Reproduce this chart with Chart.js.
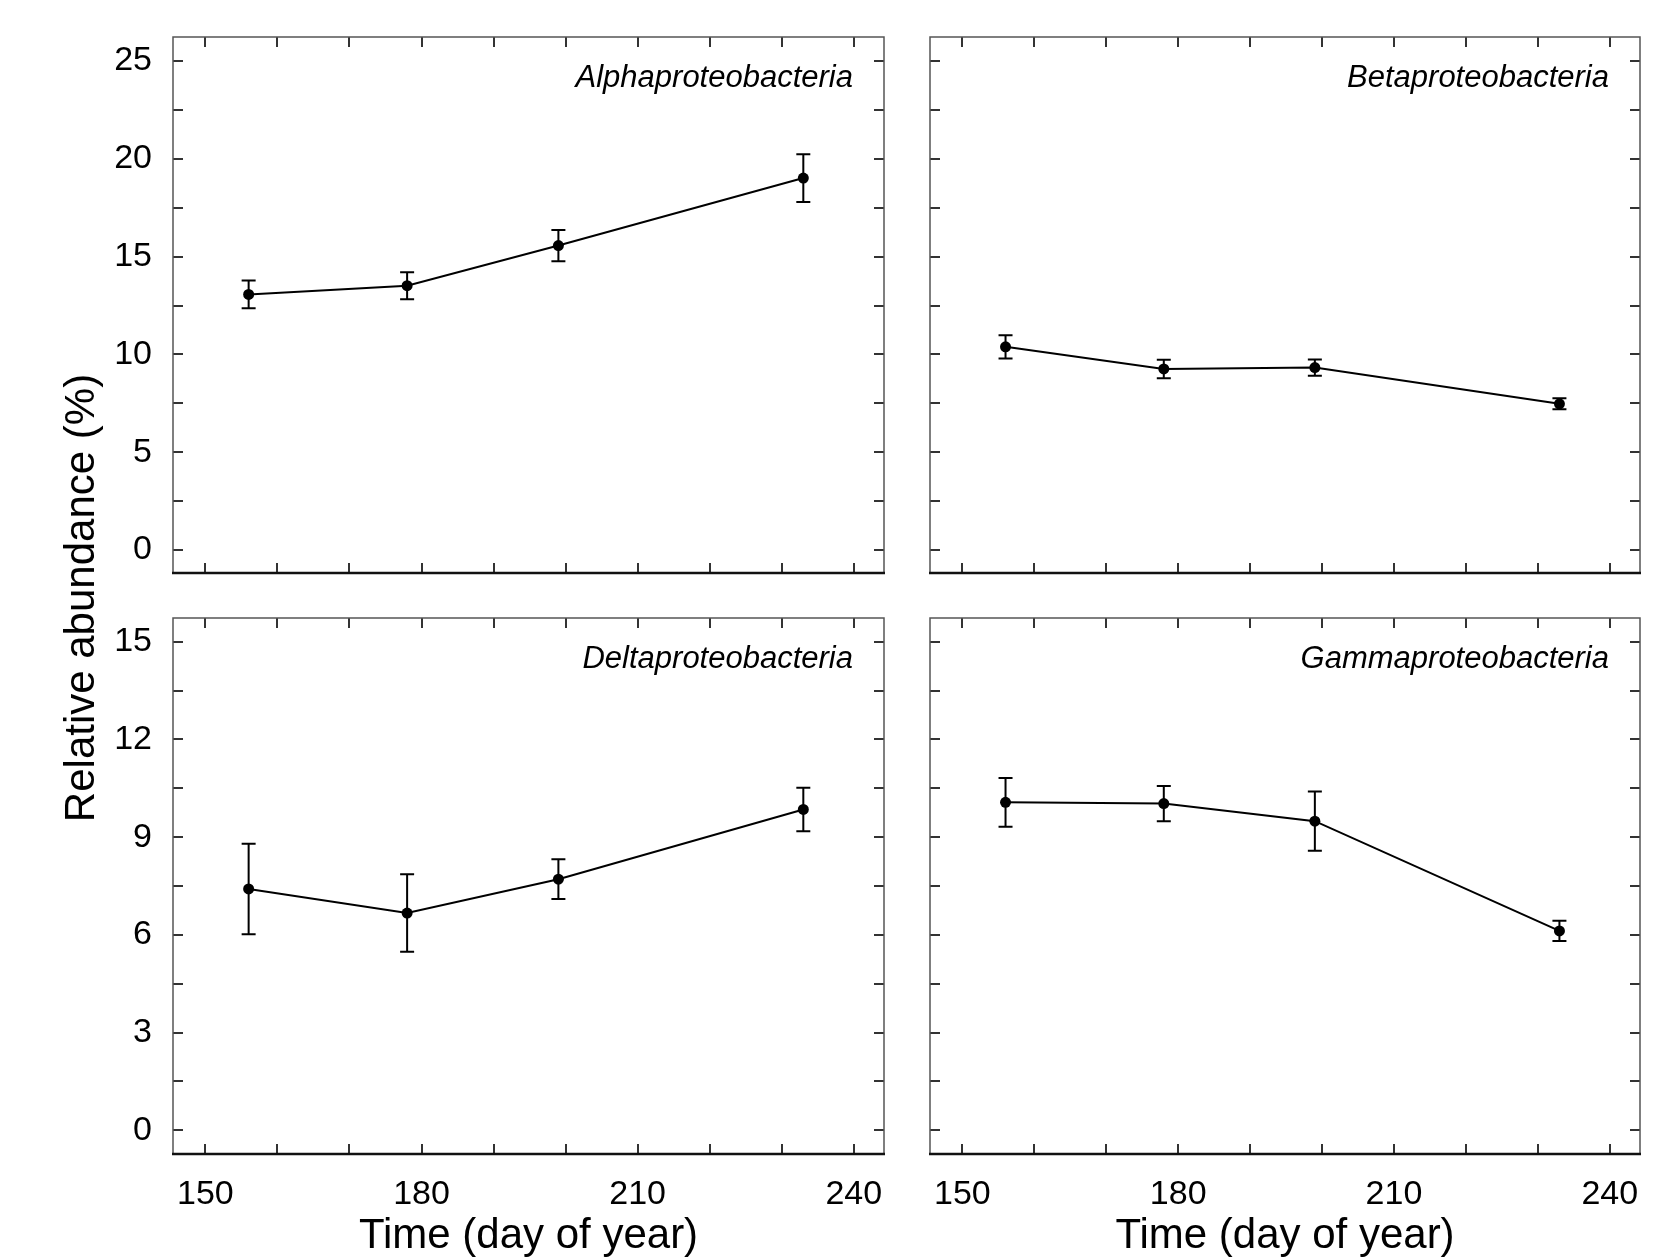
<!DOCTYPE html>
<html>
<head>
<meta charset="utf-8">
<title>Proteobacteria relative abundance</title>
<style>
  html, body { margin: 0; padding: 0; background: #fff; }
  body { width: 1672px; height: 1259px; position: relative; overflow: hidden;
         font-family: "Liberation Sans", Arial, sans-serif; }
  canvas.panel { position: absolute; }
  #ytitle { position: absolute; left: -220px; top: 573px; width: 600px; height: 50px;
            line-height: 50px; text-align: center; font-size: 42px; color: #000;
            transform: rotate(-90deg); white-space: nowrap; }
</style>
<script src="https://cdn.jsdelivr.net/npm/chart.js@4.4.1/dist/chart.umd.min.js"></script>
</head>
<body>
<canvas class="panel" id="alpha"></canvas>
<canvas class="panel" id="beta"></canvas>
<canvas class="panel" id="delta"></canvas>
<canvas class="panel" id="gamma"></canvas>
<div id="ytitle">Relative abundance (%)</div>
<script>
// sampling days
var days = [156, 178, 199, 233];

// mean relative abundance (%) and error bar half-length
var alphaMean = [13.07, 13.52, 15.57, 19.02];
var alphaErr  = [0.71, 0.69, 0.80, 1.22];
var betaMean  = [10.39, 9.26, 9.33, 7.48];
var betaErr   = [0.60, 0.47, 0.42, 0.28];
var deltaMean = [7.41, 6.67, 7.71, 9.85];
var deltaErr  = [1.39, 1.19, 0.61, 0.67];
var gammaMean = [10.07, 10.03, 9.49, 6.12];
var gammaErr  = [0.75, 0.54, 0.91, 0.31];

// ticks
var xTickMarks  = [150, 160, 170, 180, 190, 200, 210, 220, 230, 240];
var xTickLabels = [150, 180, 210, 240];
var yTickMarksTop  = [0, 2.5, 5, 7.5, 10, 12.5, 15, 17.5, 20, 22.5, 25];
var yTickLabelsTop = [0, 5, 10, 15, 20, 25];
var yTickMarksBottom  = [0, 1.5, 3, 4.5, 6, 7.5, 9, 10.5, 12, 13.5, 15];
var yTickLabelsBottom = [0, 3, 6, 9, 12, 15];

Chart.defaults.font.family = '"Liberation Sans", Arial, sans-serif';
Chart.defaults.color = '#000';

function zeroPadding(s) {
    s.paddingTop = 0; s.paddingBottom = 0; s.paddingLeft = 0; s.paddingRight = 0;
}

// frame, inward ticks, error bars and the taxon name
function framePlugin(yMarks) {
    return {
        id: 'frame',
        beforeDatasetsDraw: function (chart) {
            var ds = chart.data.datasets[0];
            var x = chart.scales.x, y = chart.scales.y, ctx = chart.ctx;
            ctx.save();
            ctx.strokeStyle = '#000';
            ctx.lineWidth = 2;
            ds.data.forEach(function (p, i) {
                var px = x.getPixelForValue(p.x);
                var top = y.getPixelForValue(p.y + ds.errors[i]);
                var bot = y.getPixelForValue(p.y - ds.errors[i]);
                ctx.beginPath();
                ctx.moveTo(px, top); ctx.lineTo(px, bot);
                ctx.moveTo(px - 7, top); ctx.lineTo(px + 7, top);
                ctx.moveTo(px - 7, bot); ctx.lineTo(px + 7, bot);
                ctx.stroke();
            });
            ctx.restore();
        },
        afterDraw: function (chart) {
            var a = chart.chartArea, ctx = chart.ctx;
            var x = chart.scales.x, y = chart.scales.y;
            var len = 10;
            ctx.save();
            ctx.strokeStyle = '#333';
            ctx.lineWidth = 2;
            ctx.beginPath();
            xTickMarks.forEach(function (v) {
                var px = Math.round(x.getPixelForValue(v));
                ctx.moveTo(px, a.bottom); ctx.lineTo(px, a.bottom - len);
                ctx.moveTo(px, a.top); ctx.lineTo(px, a.top + len);
            });
            yMarks.forEach(function (v) {
                var py = Math.round(y.getPixelForValue(v));
                ctx.moveTo(a.left, py); ctx.lineTo(a.left + len, py);
                ctx.moveTo(a.right, py); ctx.lineTo(a.right - len, py);
            });
            ctx.stroke();

            // thin grey frame, heavier bottom axis
            ctx.strokeStyle = '#555';
            ctx.lineWidth = 1.5;
            ctx.beginPath();
            ctx.moveTo(a.left, a.bottom); ctx.lineTo(a.left, a.top);
            ctx.lineTo(a.right, a.top); ctx.lineTo(a.right, a.bottom);
            ctx.stroke();
            ctx.strokeStyle = '#111';
            ctx.lineWidth = 2.5;
            ctx.beginPath();
            ctx.moveTo(a.left - 1, a.bottom); ctx.lineTo(a.right + 1, a.bottom);
            ctx.stroke();

            ctx.fillStyle = '#000';
            ctx.font = 'italic 31px "Liberation Sans", Arial, sans-serif';
            ctx.textAlign = 'right';
            ctx.textBaseline = 'alphabetic';
            ctx.fillText(chart.data.datasets[0].label, a.right - 31, a.top + 50);
            ctx.restore();
        }
    };
}

function makePanel(id, name, means, errs, rect, opt) {
    var padL = opt.showY ? 120 : 12;
    var cLeft = rect.l - padL;
    var cTop = Math.max(0, rect.t - 40);
    var cRight = rect.r + 40;
    var cBottom = opt.showX ? 1259 : rect.b + 40;
    var canvas = document.getElementById(id);
    canvas.style.left = cLeft + 'px';
    canvas.style.top = cTop + 'px';
    canvas.width = cRight - cLeft;
    canvas.height = cBottom - cTop;

    var points = days.map(function (d, i) { return { x: d, y: means[i] }; });

    new Chart(canvas, {
        type: 'line',
        data: {
            datasets: [{
                label: name,
                data: points,
                errors: errs,
                borderColor: '#000',
                borderWidth: 2,
                backgroundColor: '#000',
                pointBackgroundColor: '#000',
                pointBorderWidth: 0,
                pointRadius: 5.5,
                tension: 0
            }]
        },
        options: {
            responsive: false,
            animation: false,
            events: [],
            layout: { padding: { left: 0, top: rect.t - cTop, right: 40, bottom: 0 } },
            plugins: { legend: { display: false }, tooltip: { enabled: false } },
            scales: {
                x: {
                    type: 'linear',
                    min: 145.5,
                    max: 244.2,
                    grid: { display: false },
                    border: { display: false },
                    afterBuildTicks: function (s) {
                        s.ticks = xTickLabels.map(function (v) { return { value: v }; });
                    },
                    afterFit: function (s) { s.height = cBottom - rect.b; zeroPadding(s); },
                    ticks: {
                        display: opt.showX,
                        autoSkip: false,
                        maxRotation: 0,
                        padding: 12,
                        font: { size: 34 },
                        callback: function (v) { return String(v); }
                    },
                    title: {
                        display: opt.showX,
                        text: 'Time (day of year)',
                        font: { size: 42, lineHeight: 1 },
                        padding: { top: 0, bottom: 2 }
                    }
                },
                y: {
                    type: 'linear',
                    min: opt.yMin,
                    max: opt.yMax,
                    grid: { display: false },
                    border: { display: false },
                    afterBuildTicks: function (s) {
                        s.ticks = opt.yLabels.map(function (v) { return { value: v }; });
                    },
                    afterFit: function (s) { s.width = padL; zeroPadding(s); },
                    ticks: {
                        display: opt.showY,
                        autoSkip: false,
                        padding: 13,
                        font: { size: 34 },
                        callback: function (v) { return String(v); }
                    }
                }
            }
        },
        plugins: [framePlugin(opt.yMarks)]
    });
}

var topOpt = { yMin: -1.17, yMax: 26.23, yMarks: yTickMarksTop, yLabels: yTickLabelsTop };
var botOpt = { yMin: -0.73, yMax: 15.73, yMarks: yTickMarksBottom, yLabels: yTickLabelsBottom };

makePanel('alpha', 'Alphaproteobacteria', alphaMean, alphaErr,
    { l: 173, t: 37, r: 884, b: 573 },
    Object.assign({ showY: true, showX: false }, topOpt));
makePanel('beta', 'Betaproteobacteria', betaMean, betaErr,
    { l: 930, t: 37, r: 1640, b: 573 },
    Object.assign({ showY: false, showX: false }, topOpt));
makePanel('delta', 'Deltaproteobacteria', deltaMean, deltaErr,
    { l: 173, t: 618, r: 884, b: 1154 },
    Object.assign({ showY: true, showX: true }, botOpt));
makePanel('gamma', 'Gammaproteobacteria', gammaMean, gammaErr,
    { l: 930, t: 618, r: 1640, b: 1154 },
    Object.assign({ showY: false, showX: true }, botOpt));
</script>
</body>
</html>
